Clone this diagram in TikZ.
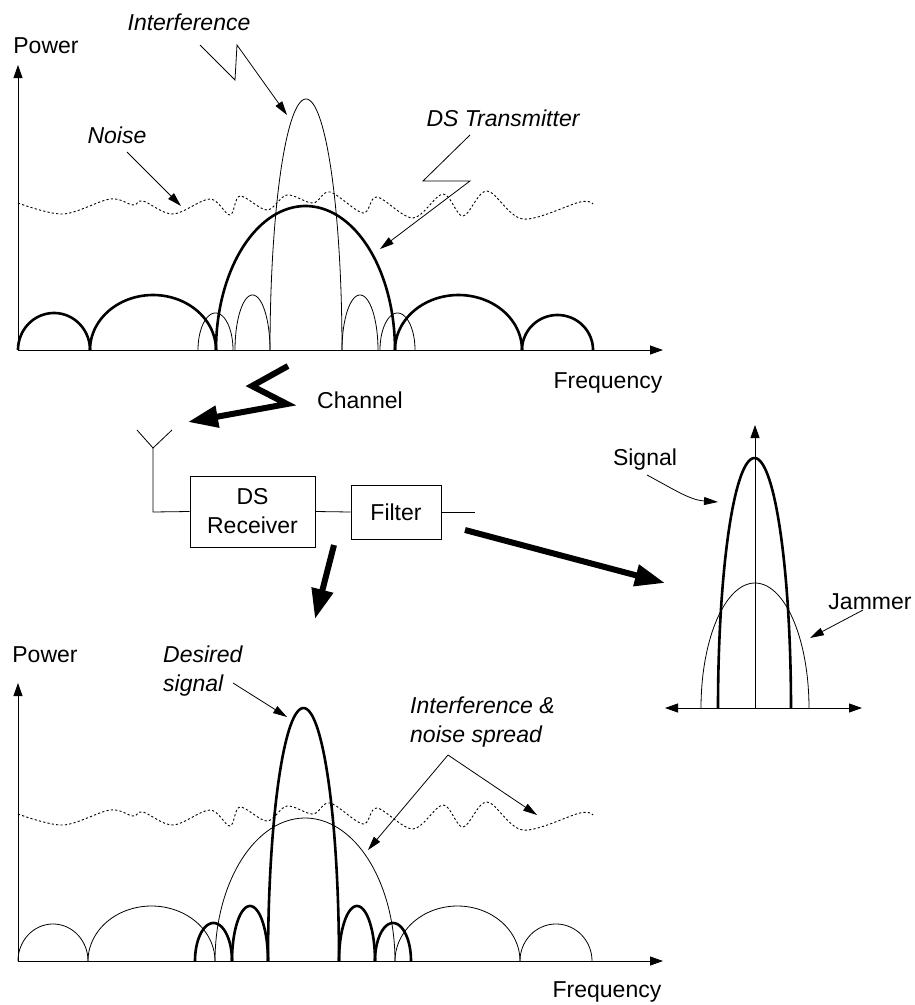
\documentclass[tikz,border=0pt]{standalone}
\usepackage{fontspec}
\setmainfont{Liberation Sans}
\usetikzlibrary{arrows.meta}
\newcommand{\mylobe}[5]{\draw[#1] plot[domain=0:180,samples=72] ({#2+#3*cos(\x)},{#5-#4*sin(\x)});}
\newcommand{\mynoise}{plot[smooth,tension=0.55] coordinates {(18,203) (63,214) (110,199) (133,205) (143,201) (173,214) (210,199) (230,215) (240,196) (267,210) (287,195) (313,203) (330,192) (363,213) (377,197) (413,218) (443,194) (463,216) (487,191) (523,219) (580,202) (593,204)}}
\begin{document}
\begin{tikzpicture}[x=1pt,y=-1pt,
  thinline/.style={line width=0.8pt},
  boldline/.style={line width=2.6pt},
  noiseline/.style={line width=0.9pt,dash pattern=on 2.2pt off 2.2pt},
  axisline/.style={line width=0.9pt,-{Triangle[length=13pt,width=9pt]}},
  pointer/.style={line width=0.8pt,-{Triangle[length=14pt,width=8pt]}},
  bigarrow/.style={line width=6pt,line join=miter,-{Triangle[length=30pt,width=21pt]}},
  lbl/.style={font=\fontsize{23}{29}\selectfont,inner sep=0pt},
  ilbl/.style={font=\fontsize{23}{29}\selectfont\itshape,inner sep=0pt},
  blockbox/.style={draw,line width=0.9pt,inner sep=0pt,font=\fontsize{23}{29}\selectfont,align=center}]
\useasboundingbox (0,0) rectangle (915,1005);
\fill[white] (0,0) rectangle (915,1005);

% ---------------- top plot ----------------
\coordinate (t-o) at (18,350);
\coordinate (t-y) at (18,65);
\coordinate (t-x) at (663,350);
\draw[axisline] (t-o) -- (t-y);
\draw[axisline] (t-o) -- (t-x);
\node[lbl] (t-power) at (46,46) {Power};
\node[lbl] (t-freq) at (608,383) {Frequency};
% DS transmitter (thick)
\mylobe{boldline}{54}{36}{37}{350}
\mylobe{boldline}{153}{63}{55}{350}
\mylobe{boldline}{305.5}{89.5}{144}{350}
\mylobe{boldline}{458.5}{63.5}{55}{350}
\mylobe{boldline}{557.5}{35.5}{35}{350}
% interference (thin)
\mylobe{thinline}{306}{36}{251}{350}
\mylobe{thinline}{215.5}{17.5}{37}{350}
\mylobe{thinline}{252.5}{17.5}{55}{350}
\mylobe{thinline}{360}{18}{55}{350}
\mylobe{thinline}{397.5}{17.5}{37}{350}
% noise
\draw[noiseline] \mynoise;
% labels
\node[ilbl] (t-int) at (189,22) {Interference};
\node[ilbl] (t-noise) at (117,135) {Noise};
\node[ilbl] (t-ds) at (503,118) {DS Transmitter};
\coordinate (ti-1) at (200,45);
\coordinate (ti-2) at (235,80);
\coordinate (ti-3) at (237,45);
\coordinate (ti-4) at (287,115);
\draw[pointer] (ti-1) -- (ti-2) -- (ti-3) -- (ti-4);
\coordinate (tn-1) at (127,152);
\coordinate (tn-2) at (181,206);
\draw[pointer] (tn-1) -- (tn-2);
\coordinate (td-1) at (470,135);
\coordinate (td-2) at (423,181);
\coordinate (td-3) at (470,181);
\coordinate (td-4) at (380,249);
\draw[pointer] (td-1) -- (td-2) -- (td-3) -- (td-4);

% ---------------- channel & receiver ----------------
\node[lbl] (chan) at (360,400) {Channel};
\coordinate (ch-1) at (288,366);
\coordinate (ch-2) at (252,386);
\coordinate (ch-3) at (287,404);
\coordinate (ch-4) at (188,422);
\draw[bigarrow] (ch-1) -- (ch-2) -- (ch-3) -- (ch-4);

\node[blockbox,minimum width=125pt,minimum height=71pt] (recv) at (252.5,511.5) {DS\\Receiver};
\node[blockbox,minimum width=90pt,minimum height=54pt] (filt) at (396,512) {Filter};
\coordinate (ant-top) at (153,448);
\coordinate (ant-l) at (137,430);
\coordinate (ant-r) at (172,430);
\coordinate (ant-bot) at (153,512);
\coordinate (out-end) at (475,512);
\draw[thinline] (ant-l) -- (ant-top) -- (ant-r);
\draw[thinline] (ant-top) -- (ant-bot) -- (recv.west);
\draw[thinline] (recv.east) -- (filt.west);
\draw[thinline] (filt.east) -- (out-end);
\coordinate (dn-1) at (334,545);
\coordinate (dn-2) at (315,619);
\draw[bigarrow] (dn-1) -- (dn-2);
\coordinate (rt-1) at (465,530);
\coordinate (rt-2) at (665,583);
\draw[bigarrow] (rt-1) -- (rt-2);

% ---------------- right plot ----------------
\coordinate (r-o) at (755,708);
\coordinate (r-y) at (755,425);
\coordinate (r-l) at (665,708);
\coordinate (r-r) at (862,708);
\draw[axisline] (r-o) -- (r-y);
\draw[line width=0.9pt,{Triangle[length=13pt,width=9pt]}-{Triangle[length=13pt,width=9pt]}] (r-l) -- (r-r);
\mylobe{boldline}{754.5}{36.5}{250}{708}
\mylobe{thinline}{755}{54}{125}{708}
\node[lbl] (sig) at (645,460) {Signal};
\node[lbl] (jam) at (870,602) {Jammer};
\coordinate (s-1) at (647,475);
\coordinate (s-2) at (718,502);
\draw[pointer] (s-1) .. controls (675,490) and (690,500) .. (s-2);
\coordinate (j-1) at (863,610);
\coordinate (j-2) at (810,638);
\draw[pointer] (j-1) -- (j-2);

% ---------------- bottom plot ----------------
\coordinate (b-o) at (18,961);
\coordinate (b-y) at (18,683);
\coordinate (b-x) at (663,961);
\draw[axisline] (b-o) -- (b-y);
\draw[axisline] (b-o) -- (b-x);
\node[lbl] (b-power) at (45,655) {Power};
\node[lbl] (b-freq) at (607,992) {Frequency};
% desired signal (thick)
\mylobe{boldline}{303.5}{35.5}{253}{961}
\mylobe{boldline}{213.5}{18.5}{38}{961}
\mylobe{boldline}{250}{18}{55}{961}
\mylobe{boldline}{357}{18}{55}{961}
\mylobe{boldline}{393}{18}{38}{961}
% spread (thin)
\mylobe{thinline}{305}{90}{143}{961}
\mylobe{thinline}{53}{35}{37}{961}
\mylobe{thinline}{151.5}{63.5}{55}{961}
\mylobe{thinline}{457.5}{62.5}{55}{961}
\mylobe{thinline}{556}{36}{37}{961}
\begin{scope}[shift={(0,611)}]
\draw[noiseline] \mynoise;
\end{scope}
\node[ilbl,align=left,anchor=west] (des) at (163,671) {Desired\\signal};
\node[ilbl,align=left,anchor=west] (ins) at (410,722) {Interference \&\\noise spread};
\coordinate (d-1) at (233,683);
\coordinate (d-2) at (287,717);
\draw[pointer] (d-1) -- (d-2);
\coordinate (in-apex) at (448,755);
\coordinate (in-l) at (368,850);
\coordinate (in-r) at (537,815);
\draw[pointer] (in-apex) -- (in-l);
\draw[pointer] (in-apex) -- (in-r);
\end{tikzpicture}
\end{document}
